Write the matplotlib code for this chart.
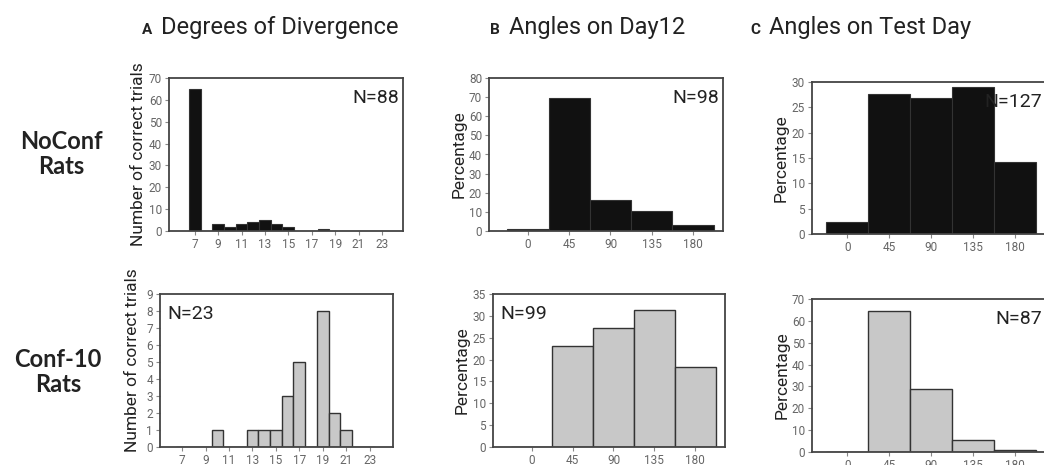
import numpy as np
import matplotlib
matplotlib.use("Agg")
import matplotlib.pyplot as plt

# panel A: degrees of divergence (counts)
div_bins = [7, 8, 9, 10, 11, 12, 13, 14, 15, 16, 17, 18, 19, 20, 21, 22, 23]
noconf_div = [65, 0, 3, 2, 3, 4, 5, 3, 2, 0, 0, 1, 0, 0, 0, 0, 0]
conf10_div = [0, 0, 0, 1, 0, 0, 1, 1, 1, 3, 5, 0, 8, 2, 1, 0, 0]
div_ticks = [7, 9, 11, 13, 15, 17, 19, 21, 23]

# panels B and C: angles (percentage)
angle_bins = [0, 45, 90, 135, 180]
noconf_day12 = [1.0, 69.4, 16.3, 10.2, 3.1]
conf10_day12 = [0.0, 23.2, 27.3, 31.3, 18.2]
noconf_test = [2.4, 27.6, 26.8, 29.1, 14.2]
conf10_test = [0.0, 64.4, 28.7, 5.7, 1.1]

n_labels = {"A_top": "N=88", "A_bot": "N=23", "B_top": "N=98",
            "B_bot": "N=99", "C_top": "N=127", "C_bot": "N=87"}

W, H = 1044, 465
fig = plt.figure(figsize=(W / 100, H / 100), dpi=100)
fig.patch.set_facecolor("white")

TXT = "#222222"
TICK = "#666666"
FRAME = "#444444"
FONT = "Roboto"


def add_ax(x0, y0, x1, y1):
    return fig.add_axes([x0 / W, 1 - y1 / H, (x1 - x0) / W, (y1 - y0) / H])


def style(ax, ylabel, yticks, ylim, xticks, xlim, ysize=12.5):
    ax.set_xlim(*xlim)
    ax.set_ylim(*ylim)
    ax.set_yticks(yticks)
    ax.set_xticks(xticks)
    for s in ax.spines.values():
        s.set_color(FRAME)
        s.set_linewidth(1.3)
    ax.tick_params(axis="both", length=3, width=0.8, color="#888888",
                   labelsize=8.5, labelcolor=TICK, pad=2)
    for lab in ax.get_xticklabels() + ax.get_yticklabels():
        lab.set_fontfamily(FONT)
    ax.set_ylabel(ylabel, fontsize=ysize, color=TXT, family=FONT, labelpad=2)


def n_text(ax, s, right=True):
    if right:
        ax.text(0.985, 0.93, s, transform=ax.transAxes, ha="right", va="top",
                fontsize=14, color=TXT, family=FONT)
    else:
        ax.text(0.03, 0.93, s, transform=ax.transAxes, ha="left", va="top",
                fontsize=14, color=TXT, family=FONT)


dark = dict(color="#111111", edgecolor="#333333", linewidth=0.8)
light = dict(color="#c8c8c8", edgecolor="#333333", linewidth=1.0)

# A
ax = add_ax(169, 78, 403, 231)
ax.bar(div_bins, noconf_div, width=1.0, **dark)
style(ax, "Number of correct trials", range(0, 71, 10), (0, 70), div_ticks, (4.8, 24.8), 12.5)
n_text(ax, n_labels["A_top"])

ax = add_ax(160, 294, 393, 447)
ax.bar(div_bins, conf10_div, width=1.0, **light)
style(ax, "Number of correct trials", range(0, 10), (0, 9), div_ticks, (5.1, 25.0), 12.5)
ax.yaxis.set_label_coords(-0.085, 0.57)
n_text(ax, n_labels["A_bot"], right=False)

# B
ax = add_ax(489, 78, 723, 231)
ax.bar(angle_bins, noconf_day12, width=45, **dark)
style(ax, "Percentage", range(0, 81, 10), (0, 80), angle_bins, (-42.5, 212.7))
n_text(ax, n_labels["B_top"])

ax = add_ax(493, 294, 725, 447)
ax.bar(angle_bins, conf10_day12, width=45, **light)
style(ax, "Percentage", range(0, 36, 5), (0, 35), angle_bins, (-42.5, 212.7))
n_text(ax, n_labels["B_bot"], right=False)

# C
ax = add_ax(812, 82, 1046, 234)
ax.bar(angle_bins, noconf_test, width=45, **dark)
style(ax, "Percentage", range(0, 31, 5), (0, 30), angle_bins, (-38, 213))
n_text(ax, n_labels["C_top"])

ax = add_ax(812, 299, 1046, 452)
ax.bar(angle_bins, conf10_test, width=45, **light)
style(ax, "Percentage", range(0, 71, 10), (0, 70), angle_bins, (-38, 213))
n_text(ax, n_labels["C_bot"])

# column titles
titles = [(142, "A", "Degrees of Divergence"),
          (490, "B", "Angles on Day12"),
          (750, "C", "Angles on Test Day")]
for x, letter, t in titles:
    fig.text(x / W, 1 - 34 / H, letter, fontsize=11, fontweight="bold",
             color=TXT, family=FONT, ha="left", va="baseline")
    fig.text((x + 19) / W, 1 - 34 / H, t, fontsize=17, color=TXT,
             family=FONT, ha="left", va="baseline")

# row labels
fig.text(61 / W, 1 - 154 / H, "NoConf\nRats", fontsize=17, fontweight="bold",
         color=TXT, family="Lato", ha="center", va="center", linespacing=1.15)
fig.text(58 / W, 1 - 372 / H, "Conf-10\nRats", fontsize=17, fontweight="bold",
         color=TXT, family="Lato", ha="center", va="center", linespacing=1.15)

fig.savefig("out.png", dpi=100, facecolor="white")
